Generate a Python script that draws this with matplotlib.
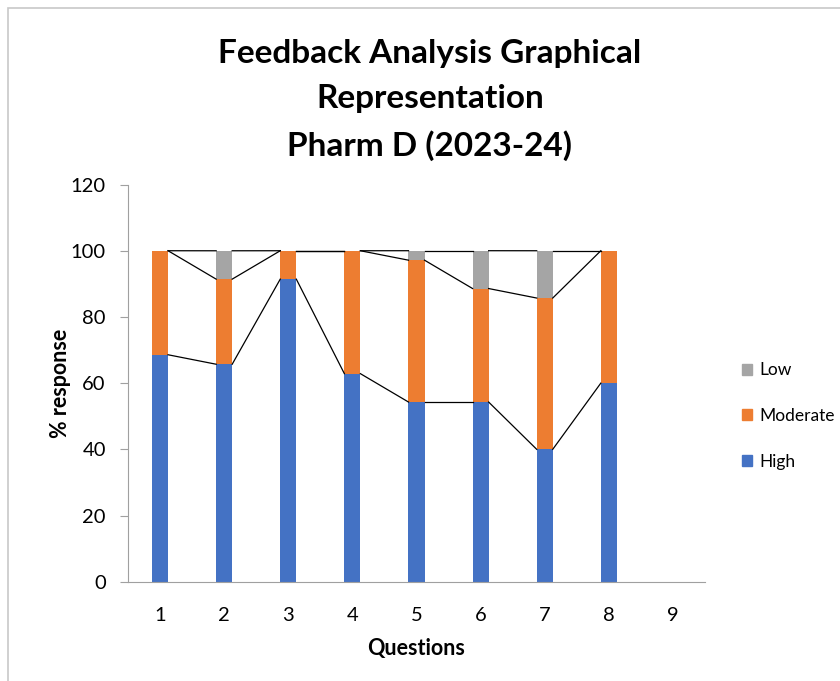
import numpy as np
import matplotlib.pyplot as plt
from matplotlib.patches import Rectangle, Patch

# Datos
preguntas = [1, 2, 3, 4, 5, 6, 7, 8, 9]
alto = [68.57, 65.71, 91.43, 62.86, 54.29, 54.29, 40.00, 60.00, 0]
moderado = [31.43, 25.71, 8.57, 37.14, 42.86, 34.29, 45.71, 40.00, 0]
bajo = [0, 8.57, 0, 0, 2.86, 11.43, 14.29, 0, 0]
n_con_datos = 8

c_alto = '#4472C4'
c_mod = '#ED7D31'
c_bajo = '#A5A5A5'

plt.rcParams['font.family'] = ['Lato', 'DejaVu Sans']

fig = plt.figure(figsize=(8.4, 6.81), dpi=100)
fig.patches.append(Rectangle((8 / 840, -0.1), 1.2, 1.1 - 8 / 681, transform=fig.transFigure,
                             fill=False, edgecolor='#C8C8C8', linewidth=1.2))

ax = fig.add_axes([128 / 840, 0.1458, (705 - 128) / 840, 0.729 - 0.1458])

x = np.array(preguntas)
ancho = 0.25
alto = np.array(alto)
moderado = np.array(moderado)
bajo = np.array(bajo)

ax.bar(x, alto, ancho, color=c_alto, zorder=2)
ax.bar(x, moderado, ancho, bottom=alto, color=c_mod, zorder=2)
ax.bar(x, bajo, ancho, bottom=alto + moderado, color=c_bajo, zorder=2)

# Lineas de serie entre barras (como en Excel)
for tope in [alto, alto + moderado, alto + moderado + bajo]:
    for i in range(n_con_datos - 1):
        ax.plot([x[i] + ancho / 2, x[i + 1] - ancho / 2], [tope[i], tope[i + 1]],
                color='black', linewidth=0.9, zorder=3)

ax.set_xlim(0.5, 9.5)
ax.set_ylim(0, 120)
ax.set_yticks(range(0, 121, 20))
ax.set_xticks(preguntas)
ax.tick_params(axis='y', length=6, color='#A0A0A0', labelsize=14.5, pad=10)
ax.tick_params(axis='x', length=0, labelsize=14.5, pad=18)
for s in ['top', 'right']:
    ax.spines[s].set_visible(False)
ax.spines['left'].set_color('#A0A0A0')
ax.spines['bottom'].set_color('#A0A0A0')

ax.set_ylabel('% response', fontsize=15.5, fontweight='bold', labelpad=0)
ax.set_xlabel('Questions', fontsize=15.5, fontweight='bold', labelpad=10)

fig.text(430 / 840, 1 - 100 / 681, 'Feedback Analysis Graphical\nRepresentation\nPharm D (2023-24)',
         ha='center', va='center', fontsize=24, fontweight='bold', linespacing=1.65)

handles = [Patch(color=c_bajo, label='Low'), Patch(color=c_mod, label='Moderate'),
           Patch(color=c_alto, label='High')]
fig.legend(handles=handles, loc='center left', bbox_to_anchor=(726 / 840, 1 - 416 / 681),
           frameon=False, fontsize=12.5, handlelength=0.6, handleheight=0.6,
           handletextpad=0.4, labelspacing=1.72)

plt.savefig('out.png', dpi=100)
